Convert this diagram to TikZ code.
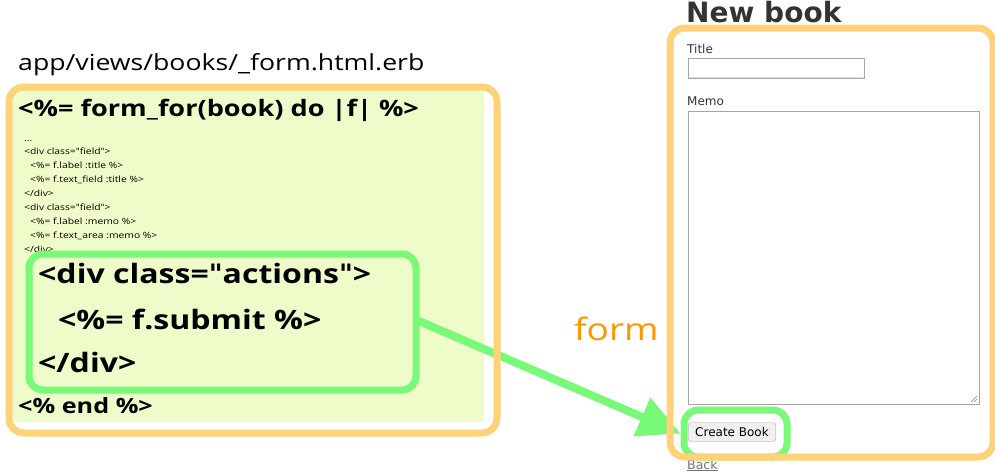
\documentclass[tikz,border=0pt]{standalone}
\usepackage{fontspec}
\setmainfont[Ligatures=NoCommon,FakeStretch=1.2]{Open Sans}
\newfontfamily\webfont{DejaVu Sans}
\usetikzlibrary{arrows.meta}
\newcommand{\dq}{{\webfont\symbol{34}}}
\definecolor{boxorange}{RGB}{255,210,122}
\definecolor{hlgreen}{RGB}{120,250,120}
\definecolor{codebg}{RGB}{237,252,200}
\definecolor{formorange}{RGB}{255,150,0}
\definecolor{webgray}{RGB}{51,51,51}
\tikzset{
  frame/.style={draw=boxorange, line width=7pt, rounded corners=15pt},
  hlbox/.style={draw=hlgreen, line width=7pt, rounded corners=14pt},
  small/.style={anchor=base west, inner sep=0pt, font=\fontsize{8.6}{10}\selectfont},
  big/.style={anchor=base west, inner sep=0pt, font=\fontsize{26.7}{30}\selectfont\bfseries},
  web/.style={anchor=base west, inner sep=0pt, text=webgray, font=\webfont\fontsize{12}{14}\selectfont},
}
\begin{document}
\begin{tikzpicture}[x=1pt,y=-1pt]
\useasboundingbox (0,0) rectangle (995,471);
% left code frame
\fill[codebg] (13,90) rectangle (484,422);
\node[anchor=base west, inner sep=0pt, font=\fontsize{22.2}{28}\selectfont] (path) at (18,70) {app/views/books/\_form.html.erb};
\node[anchor=base west, inner sep=0pt, font=\fontsize{22.6}{28}\selectfont\bfseries] (formfor) at (18,116) {<\%= form\_for(book) do |f| \%>};
\node[small] (l1) at (24,141) {...};
\node[small] (l2) at (24,154) {<div class=\dq field\dq>};
\node[small] (l3) at (30,168) {<\%= f.label :title \%>};
\node[small] (l4) at (30,182) {<\%= f.text\_field :title \%>};
\node[small] (l5) at (24,196) {</div>};
\node[small] (l6) at (24,210) {<div class=\dq field\dq>};
\node[small] (l7) at (30,224) {<\%= f.label :memo \%>};
\node[small] (l8) at (30,238) {<\%= f.text\_area :memo \%>};
\node[small] (l9) at (24,252) {</div>};
% green highlight box
\node[hlbox, fill=codebg, minimum width=387pt, minimum height=136pt, anchor=north west] (actbox) at (25.5,250.5) {};
\node[big] (a1) at (38,283) {<div class=\dq actions\dq>};
\node[big] (a2) at (58,329) {<\%= f.submit \%>};
\node[big] (a3) at (38,372) {</div>};
\node[anchor=base west, inner sep=0pt, font=\fontsize{21}{24}\selectfont\bfseries] (endt) at (18,413) {<\% end \%>};
% right browser
\node[anchor=base west, inner sep=0pt, text=webgray, font=\webfont\fontsize{28}{30}\selectfont\bfseries] (newbook) at (686,22) {New book};
\node[web] (titlelbl) at (687,53) {Title};
\draw[draw=gray!70, fill=white] (688,58) rectangle (864,78);
\draw[draw=gray!25] (689,77) -- (863,77);
\node[web] (memolbl) at (687,105) {Memo};
\draw[draw=gray!70, fill=white] (688,111) rectangle (979,404);
\draw[gray, line width=0.5pt] (971,402) -- (977,396) (974,402) -- (977,399);
\node[draw=gray!70, fill=gray!12, rounded corners=3pt, inner xsep=7pt, minimum height=19pt, anchor=west, font=\webfont\fontsize{12}{13}\selectfont] (btn) at (688,432) {Create Book};
\node[web, text=gray!90!black, font=\webfont\fontsize{12.5}{14}\selectfont] (back) at (687,469) {\underline{Back}};
\node[anchor=base west, inner sep=0pt, text=formorange, font=\fontsize{30.8}{36}\selectfont] (formlbl) at (574,340) {form};
% highlight around button
\node[hlbox, minimum width=103pt, minimum height=47pt, anchor=north west] (btnbox) at (680.5,406.5) {};
% arrow
\coordinate (arrstart) at (419,321);
\draw[hlgreen, line width=8pt, -{Triangle[length=42pt,width=40pt]}] (arrstart) -- (btnbox.west);
% frames on top
\node[frame, minimum width=488pt, minimum height=346pt, anchor=north west] (leftframe) at (5.5,83.5) {};
\node[frame, minimum width=323pt, minimum height=429pt, anchor=north west] (rightframe) at (666.5,24.5) {};
\end{tikzpicture}
\end{document}
